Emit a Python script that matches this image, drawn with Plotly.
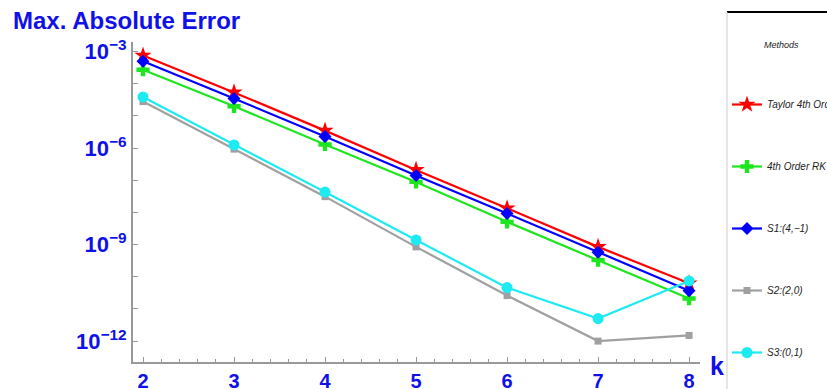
import plotly.graph_objects as go

k = [2, 3, 4, 5, 6, 7, 8]
taylor = [7.6e-4, 5.4e-5, 3.5e-6, 2.1e-7, 1.35e-8, 8.5e-10, 6.3e-11]
rk4 = [2.75e-4, 2.0e-5, 1.3e-6, 8.9e-8, 5.1e-9, 3.3e-10, 2.1e-11]
s1 = [5.0e-4, 3.5e-5, 2.3e-6, 1.4e-7, 9.3e-9, 5.8e-10, 3.7e-11]
s2 = [2.8e-5, 9.3e-7, 3.1e-8, 8.5e-10, 2.6e-11, 1.0e-12, 1.5e-12]
s3 = [3.9e-5, 1.26e-6, 4.3e-8, 1.4e-9, 4.6e-11, 5.0e-12, 7.4e-11]

names = ["Taylor 4th Order", "4th Order RK", "S1:(4,\u22121)", "S2:(2,0)", "S3:(0,1)"]
series = [taylor, rk4, s1, s2, s3]
colors = ["#FF0000", "#1EE61E", "#0000FF", "#A0A0A0", "#1EEAF2"]
symbols = ["star", "cross", "diamond", "square", "circle"]
sizes = [13, 11, 10, 7, 11]

y_tickvals = [1e-3, 1e-4, 1e-5, 1e-6, 1e-7, 1e-8, 1e-9, 1e-10, 1e-11, 1e-12]
y_ticktext = ["10<sup>\u22123</sup>", "", "", "10<sup>\u22126</sup>", "", "",
              "10<sup>\u22129</sup>", "", "", "10<sup>\u221212</sup>"]

BLUE = "#1010E8"
AX = "#999999"

fig = go.Figure()
for i, (nm, ys) in enumerate(zip(names, series)):
    fig.add_trace(go.Scatter(
        x=k, y=ys, name=nm, mode="lines+markers",
        line=dict(color=colors[i], width=2.2),
        marker=dict(symbol=symbols[i], size=sizes[i], color=colors[i]),
        legendgroup=str(i),
    ))

fig.update_layout(
    width=827, height=389,
    margin=dict(l=133, r=127, t=42, b=27, autoexpand=False),
    plot_bgcolor="white", paper_bgcolor="white",
    showlegend=True,
    legend=dict(
        x=1.0476, y=0.85, xanchor="left", yanchor="top",
        font=dict(family="Liberation Sans Narrow, Liberation Sans, Arial", size=10,
                  color="#222222", style="italic"),
        tracegroupgap=43, bgcolor="rgba(0,0,0,0)",
        itemwidth=30,
    ),
    xaxis=dict(
        range=[1.89, 8.12], showgrid=False, zeroline=False,
        showline=True, linecolor=AX, linewidth=2,
        tickvals=k, ticks="inside", ticklen=5, tickcolor=AX, tickwidth=1,
        minor=dict(dtick=0.2, tick0=2, ticks="inside", ticklen=3, tickcolor=AX, showgrid=False),
        tickfont=dict(family="Liberation Sans, Arial", size=20, color=BLUE, weight="bold"),
    ),
    yaxis=dict(
        type="log", range=[-12.65, -2.7], showgrid=False, zeroline=False,
        showline=True, linecolor=AX, linewidth=2,
        tickvals=y_tickvals, ticktext=y_ticktext,
        ticks="inside", ticklen=5, tickcolor=AX, tickwidth=1,
        tickfont=dict(family="Liberation Sans, Arial", size=22, color=BLUE, weight="bold"),
    ),
    annotations=[
        dict(text="Max. Absolute Error", xref="paper", yref="paper",
             x=-0.215, y=1.066, xanchor="left", yanchor="middle", showarrow=False,
             font=dict(family="Liberation Sans, Arial", size=24, color=BLUE, weight="bold")),
        dict(text="k", xref="paper", yref="paper",
             x=1.03, y=-0.013, xanchor="center", yanchor="middle", showarrow=False,
             font=dict(family="Liberation Sans, Arial", size=25, color=BLUE, weight="bold")),
        dict(text="Methods", xref="paper", yref="paper",
             x=1.1446, y=0.99, xanchor="center", yanchor="middle", showarrow=False,
             font=dict(family="Liberation Sans Narrow, Liberation Sans, Arial", size=9,
                       color="#222222", style="italic")),
    ],
    shapes=[
        dict(type="line", xref="paper", yref="paper", x0=1.0476, x1=1.2240,
             y0=1.09375, y1=1.09375, line=dict(color="black", width=2)),
        dict(type="line", xref="paper", yref="paper", x0=1.0476, x1=1.0476,
             y0=1.09375, y1=-0.09, line=dict(color="#CCCCCC", width=1)),
    ],
)

fig.write_html("out.html", config={"displayModeBar": False},
               post_script="document.body.style.margin='0';")
